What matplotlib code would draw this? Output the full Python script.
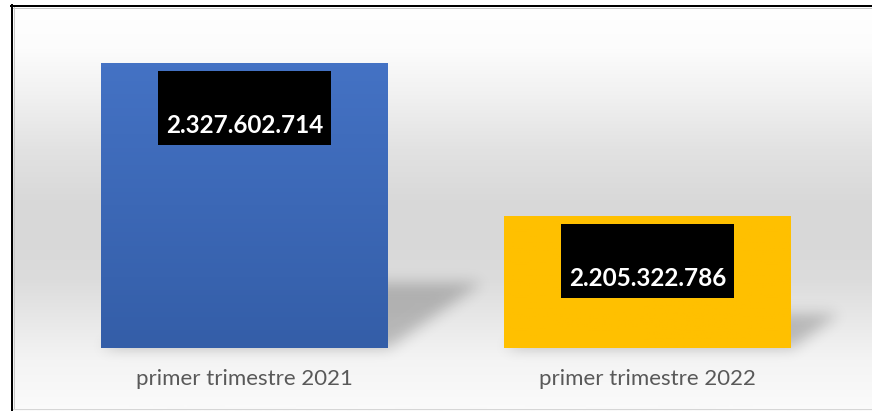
import numpy as np
import matplotlib.pyplot as plt
from matplotlib.patches import Rectangle
from matplotlib.lines import Line2D
from matplotlib.transforms import IdentityTransform
from matplotlib.colors import to_rgb

plt.rcParams['font.family'] = ['Lato', 'DejaVu Sans']

categories = ["primer trimestre 2021", "primer trimestre 2022"]
values = [2327602714, 2205322786]
value_labels = ["2.327.602.714", "2.205.322.786"]
top_colors = ["#4472C4", "#FFC000"]
bottom_colors = ["#345EA8", "#FFC000"]
y_min, y_max = 2.1e9, 2.35e9

W, H = 872, 411
fig = plt.figure(figsize=(W / 100, H / 100), dpi=100)

# full-figure panel for the gradient background and the shadows
bg = fig.add_axes([0, 0, 1, 1], zorder=0)
bg.set_xlim(0, W)
bg.set_ylim(0, H)
bg.axis('off')

ax = fig.add_axes([43 / W, 63 / H, 806 / W, 313 / H], zorder=1)
ax.set_facecolor('none')
x = np.arange(len(categories))
bars = ax.bar(x, values, width=0.712, color=top_colors, zorder=2)

# vertical gradient fill on each bar
for b, c0, c1 in zip(bars, top_colors, bottom_colors):
    grad = np.linspace(to_rgb(c0), to_rgb(c1), 64)[:, None, :]
    im = ax.imshow(grad, extent=(b.get_x(), b.get_x() + b.get_width(), y_min, b.get_height()),
                   origin='upper', aspect='auto', zorder=3)
    im.set_clip_path(b)

ax.set_xlim(-0.5, 1.5)
ax.set_ylim(y_min, y_max)
ax.set_yticks([])
ax.set_xticks(x, categories)
ax.tick_params(axis='x', length=0, pad=15, labelsize=16, labelcolor='#595959')
for s in ax.spines.values():
    s.set_visible(False)

# background: white at the top, grey band in the middle, light again at the bottom
rows = np.arange(H) + 0.5  # counted from the top
gy = [6, 50, 100, 150, 200, 240, 280, 320, 360, 405]
gv = [255, 252, 240, 226, 217, 216, 220, 232, 244, 250]
prof = np.interp(rows, gy, gv) / 255.0
img = np.ones((H, W, 3))
img[:, :, :] = prof[:, None, None]
img[:6, :, :] = 1.0
img[:, :12, :] = 1.0
bg.imshow(img, extent=(0, W, 0, H), origin='upper', aspect='auto', zorder=0)

# perspective shadows falling to the right of each bar
yy, xx = np.mgrid[0:H, 0:W] + 0.5
mask = np.zeros((H, W))
for b in bars:
    x_l, y_b = ax.transData.transform((b.get_x(), y_min))
    x_r, y_t = ax.transData.transform((b.get_x() + b.get_width(), b.get_height()))
    h = y_t - y_b
    t = 0.2 * h + 8
    dx = 0.3 * h + 8
    f = (yy - y_b) / t
    inside = (f >= 0) & (f <= 1) & (xx >= x_l + f * dx) & (xx <= x_r + f * dx)
    mask[inside] = 1.0

sigma = 7.0
k = np.arange(-22, 23)
kernel = np.exp(-k ** 2 / (2 * sigma ** 2))
kernel /= kernel.sum()
mask = np.apply_along_axis(lambda r: np.convolve(r, kernel, mode='same'), 1, mask)
mask = np.apply_along_axis(lambda c: np.convolve(c, kernel, mode='same'), 0, mask)
shadow = np.zeros((H, W, 4))
shadow[:, :, 3] = 0.22 * mask
bg.imshow(shadow, extent=(0, W, 0, H), origin='lower', aspect='auto', zorder=1)

# value labels in black boxes
for b, txt in zip(bars, value_labels):
    xc, yt = ax.transData.transform((b.get_x() + b.get_width() / 2, b.get_height()))
    box_w, box_h = 173, 74
    top = yt - 8
    fig.add_artist(Rectangle((xc - box_w / 2, top - box_h), box_w, box_h,
                             transform=IdentityTransform(), facecolor='black',
                             edgecolor='none', zorder=4))
    fig.text(xc, top - box_h + 20, txt, transform=IdentityTransform(), ha='center',
             va='center', color='white', fontsize=17.5, fontweight='bold', zorder=5)

# chart frame
line_w = 0.72
fig.add_artist(Line2D([11.5, 11.5], [0, H - 5], transform=IdentityTransform(),
                      color='black', lw=2 * line_w, zorder=6))
fig.add_artist(Line2D([11, W], [H - 5.5, H - 5.5], transform=IdentityTransform(),
                      color='black', lw=2 * line_w, zorder=6))
fig.add_artist(Line2D([13.5, 13.5], [3, H - 7], transform=IdentityTransform(),
                      color='#c8c8c8', lw=line_w, zorder=6))
fig.add_artist(Line2D([13, W], [H - 7.5, H - 7.5], transform=IdentityTransform(),
                      color='#c8c8c8', lw=line_w, zorder=6))
fig.add_artist(Line2D([13, W], [2.5, 2.5], transform=IdentityTransform(),
                      color='#d6d6d6', lw=line_w, zorder=6))

fig.savefig('out.png', dpi=100)
